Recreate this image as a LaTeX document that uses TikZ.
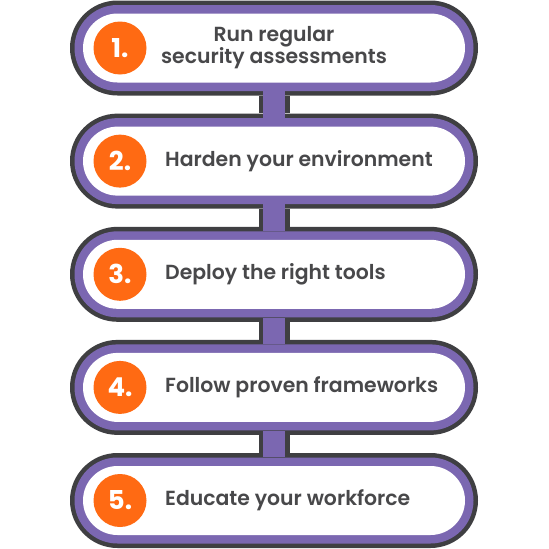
\documentclass[tikz,border=0pt]{standalone}
\usepackage{fontspec}
\setmainfont{Poppins}[UprightFont=* SemiBold, BoldFont=* Bold]
\definecolor{dgray}{HTML}{3F3F42}
\definecolor{purp}{HTML}{7B67B1}
\definecolor{orng}{HTML}{FF6A13}
\definecolor{txt}{HTML}{48484A}
\tikzset{
  outerbox/.style={fill=dgray, minimum width=408pt, minimum height=95pt, rounded corners=47.5pt, inner sep=0pt},
  purpbox/.style={fill=purp, minimum width=399pt, minimum height=86pt, rounded corners=43pt, inner sep=0pt},
  whitebox/.style={fill=white, minimum width=382pt, minimum height=69pt, rounded corners=34.5pt, inner sep=0pt},
  numcirc/.style={circle, fill=orng, minimum size=53pt, inner sep=0pt, text=white, font=\bfseries\fontsize{26}{26}\selectfont},
  label/.style={text=txt, font=\fontsize{20.4}{22}\selectfont, inner sep=0pt}
}
\begin{document}
\begin{tikzpicture}[x=1pt,y=-1pt]
\useasboundingbox (0,0) rectangle (549,549);
\fill[white] (0,0) rectangle (549,549);
\foreach \i/\y in {1/48,2/161.1,3/274.3,4/387.4,5/500.5}{
  \node[outerbox] (o\i) at (274,\y) {};
}
\foreach \i/\j in {1/2,2/3,3/4,4/5}{
  \fill[dgray] ([xshift=-15.5pt]o\i.south) rectangle ([xshift=15.5pt]o\j.north);
}
\foreach \i/\y in {1/48,2/161.1,3/274.3,4/387.4,5/500.5}{
  \node[purpbox] (p\i) at (274,\y) {};
}
\foreach \i/\j in {1/2,2/3,3/4,4/5}{
  \fill[purp] ([xshift=-11pt]p\i.south) rectangle ([xshift=11pt]p\j.north);
}
\foreach \i/\y in {1/48,2/161.1,3/274.3,4/387.4,5/500.5}{
  \node[whitebox] (w\i) at (274,\y) {};
  \node[numcirc] (c\i) at (120,\y) {\i.};
}
\node[label, align=center] (t1) at (274,48) {Run regular\\security assessments};
\node[label, anchor=west] (t2) at (165,161.1) {Harden your environment};
\node[label, anchor=west] (t3) at (165,274.3) {Deploy the right tools};
\node[label, anchor=west] (t4) at (165,387.4) {Follow proven frameworks};
\node[label, anchor=west] (t5) at (165,500.5) {Educate your workforce};
\end{tikzpicture}
\end{document}
